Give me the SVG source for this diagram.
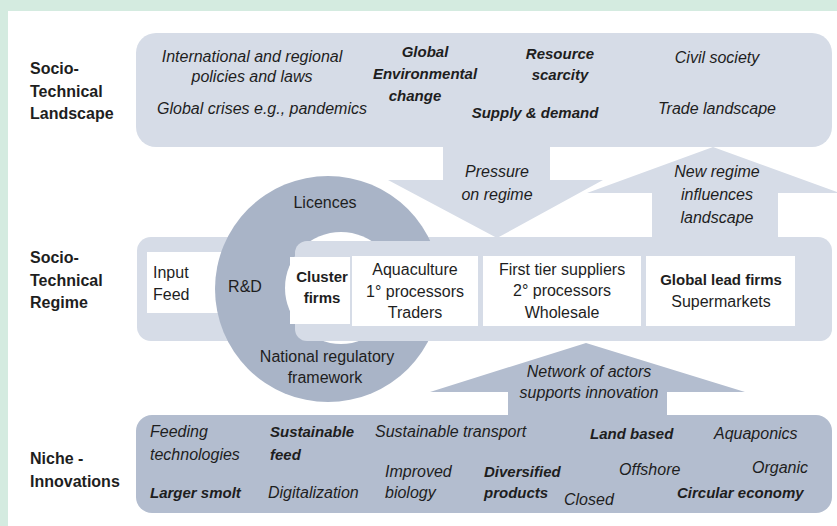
<svg xmlns="http://www.w3.org/2000/svg" width="837" height="526" viewBox="0 0 837 526">
<style>
text{font-family:"Liberation Sans",Arial,sans-serif;fill:#1e1e1e}
.lab{font-weight:bold;font-size:16px}
.it{font-style:italic;font-size:16px}
.bi{font-style:italic;font-weight:bold;font-size:15px}
.rg{font-size:16px}
.bd{font-weight:bold;font-size:15px}
.c{text-anchor:middle}
.light{fill:#d6dce7}
.dark{fill:#b3bdcf}
.ring{fill:#a9b4c7}
.box{fill:#ffffff}
</style>
<rect x="0" y="0" width="837" height="526" fill="#d4ebe0"/>
<rect x="8" y="11" width="829" height="515" fill="#ffffff"/>

<g id="landscape">
<rect class="light" x="136" y="33" width="696" height="114" rx="20"/>
<text class="lab" x="30" y="74">Socio-</text>
<text class="lab" x="30" y="97">Technical</text>
<text class="lab" x="30" y="119">Landscape</text>
<text class="it c" x="252" y="62">International and regional</text>
<text class="it c" x="252" y="82">policies and laws</text>
<text class="it c" x="262" y="114">Global crises e.g., pandemics</text>
<text class="bi c" x="425" y="57">Global</text>
<text class="bi c" x="425" y="79">Environmental</text>
<text class="bi c" x="415" y="101">change</text>
<text class="bi c" x="560" y="59">Resource</text>
<text class="bi c" x="560" y="80">scarcity</text>
<text class="bi c" x="535" y="118">Supply &amp; demand</text>
<text class="it c" x="717" y="63">Civil society</text>
<text class="it c" x="717" y="114">Trade landscape</text>
</g>

<g id="connectors">
<polygon id="pressure" class="light" points="443,146 550,146 550,180 603,180 497,238 388,180 443,180"/>
<polygon id="newregime" class="light" points="713,147 840,193 778,193 778,242 652,242 652,193 587,193"/>
</g>

<g id="regime">
<rect class="light" x="137" y="237" width="695" height="104" rx="14"/>
<rect class="box" x="147" y="252" width="80" height="61"/>
<circle class="ring" cx="328" cy="289" r="113"/>
<circle class="box" cx="341" cy="288" r="56"/>
<rect class="light" x="295" y="241" width="537" height="100" rx="12"/>
<rect class="box" x="290" y="257" width="60" height="67"/>
<rect class="box" x="352" y="256" width="126" height="70"/>
<rect class="box" x="483" y="256" width="158" height="70"/>
<rect class="box" x="646" y="256" width="149" height="70"/>
<text class="lab" x="30" y="263">Socio-</text>
<text class="lab" x="30" y="286">Technical</text>
<text class="lab" x="30" y="308">Regime</text>
<text class="rg" x="153" y="278">Input</text>
<text class="rg" x="153" y="300">Feed</text>
<text class="rg c" x="245" y="292">R&amp;D</text>
<text class="rg c" x="325" y="208">Licences</text>
<text class="rg c" x="327" y="362">National regulatory</text>
<text class="rg c" x="325" y="383">framework</text>
<text class="bd c" x="322" y="282">Cluster</text>
<text class="bd c" x="322" y="303">firms</text>
<text class="rg c" x="415" y="275">Aquaculture</text>
<text class="rg c" x="415" y="297">1° processors</text>
<text class="rg c" x="415" y="318">Traders</text>
<text class="rg c" x="562" y="275">First tier suppliers</text>
<text class="rg c" x="562" y="296">2° processors</text>
<text class="rg c" x="562" y="318">Wholesale</text>
<text class="bd c" x="721" y="285">Global lead firms</text>
<text class="rg c" x="721" y="307">Supermarkets</text>
<text class="it c" x="497" y="177">Pressure</text>
<text class="it c" x="497" y="200">on regime</text>
<text class="it c" x="717" y="177">New regime</text>
<text class="it c" x="717" y="200">influences</text>
<text class="it c" x="717" y="223">landscape</text>
</g>

<g id="network">
<polygon class="dark" points="586,343 745,392 667,392 667,417 508,417 508,392 430,392"/>
<text class="it c" x="589" y="377">Network of actors</text>
<text class="it c" x="589" y="398">supports innovation</text>
</g>

<g id="niche">
<rect class="dark" x="136" y="415" width="696" height="98" rx="16"/>
<text class="lab" x="30" y="464">Niche -</text>
<text class="lab" x="30" y="487">Innovations</text>
<text class="it" x="150" y="437">Feeding</text>
<text class="it" x="150" y="460">technologies</text>
<text class="bi" x="150" y="498">Larger smolt</text>
<text class="bi" x="270" y="437">Sustainable</text>
<text class="bi" x="270" y="460">feed</text>
<text class="it" x="268" y="498">Digitalization</text>
<text class="it" x="375" y="437">Sustainable transport</text>
<text class="it" x="385" y="477">Improved</text>
<text class="it" x="385" y="498">biology</text>
<text class="bi" x="484" y="477">Diversified</text>
<text class="bi" x="484" y="498">products</text>
<text class="it" x="564" y="505">Closed</text>
<text class="bi" x="590" y="439">Land based</text>
<text class="it" x="619" y="475">Offshore</text>
<text class="it" x="714" y="439">Aquaponics</text>
<text class="it" x="752" y="473">Organic</text>
<text class="bi" x="677" y="498">Circular economy</text>
</g>
</svg>
